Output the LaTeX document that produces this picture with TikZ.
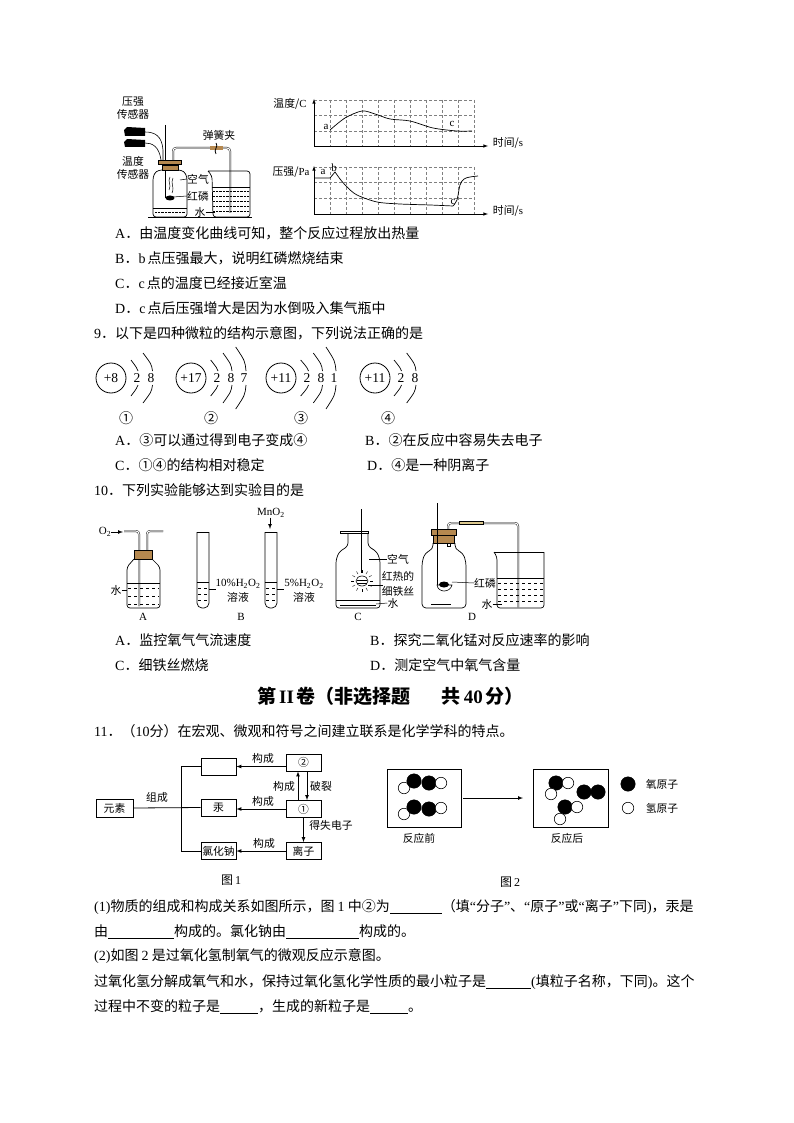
\documentclass[tikz,border=0pt]{standalone}
\usepackage{fontspec}
\setmainfont{Noto Sans CJK SC}
\newfontfamily\lat{Liberation Serif}
\newcommand{\la}[1]{{\lat #1}}
\newcommand{\blank}[1]{\rule[-2pt]{#1pt}{0.6pt}}
\newcommand{\shell}[3]{\draw[line width=.7pt] (#1,378-#3) .. controls (#2-1,378-#3*0.55) .. (#2,371); \draw[line width=.7pt] (#1,378+#3) .. controls (#2-1,378+#3*0.55) .. (#2,385);}
\definecolor{stopper}{HTML}{B5884F}
\definecolor{rubber}{HTML}{DCC88E}
\tikzset{
	line/.style={anchor=west,inner sep=0pt,font=\fontsize{14}{16}\selectfont},
	lab/.style={inner sep=0pt,font=\fontsize{10.8}{12}\selectfont},
	num/.style={inner sep=0pt,font=\lat\fontsize{13.5}{15}\selectfont},
	latlab/.style={inner sep=0pt,font=\lat\fontsize{11}{12}\selectfont},
	tube/.style={double,double distance=1.1pt,line width=.45pt,rounded corners=3pt},
	glass/.style={line width=.7pt,rounded corners=3pt},
	grid/.style={densely dashed,line width=.35pt,gray},
	axis/.style={-latex,line width=.6pt},
	curve/.style={line width=.7pt,smooth},
	water/.style={dashed,line width=.5pt},
	box/.style={draw,line width=.8pt,inner sep=0pt,minimum width=35pt,minimum height=17pt,font=\fontsize{10.8}{12}\selectfont},
	arr/.style={-latex,line width=.7pt},
	oatom/.style={circle,fill=black,draw,inner sep=0pt,minimum size=14.5pt},
	hatom/.style={circle,fill=white,draw,line width=.6pt,inner sep=0pt,minimum size=11.5pt},
	nucleus/.style={circle,draw,line width=.8pt,minimum size=30pt,inner sep=0pt,font=\lat\fontsize{13.5}{15}\selectfont},
}
\begin{document}
\begin{tikzpicture}[x=1pt,y=-1pt]
	\useasboundingbox (0,0) rectangle (794,1123);

	% apparatus of question 8
	\node[lab] (yq) at (133,102) {压强};
	\node[lab] (yqs) at (133,114) {传感器};
	\node[lab] (wd) at (133,161) {温度};
	\node[lab] (wds) at (133,174) {传感器};
	\fill (124,130) -- (127,127) -- (145,128) -- (145,136) -- (125,136) -- cycle;
	\fill (124,142) -- (127,139) -- (145,140) -- (145,147) -- (125,147) -- cycle;
	\draw[line width=.6pt] (145,132) .. controls (155,132) and (162,136) .. (163,150) -- (163,160);
	\draw[line width=.6pt] (145,143) .. controls (152,143) and (159,146) .. (161,160);
	\draw[line width=.6pt] (165,125) -- (165,198);
	\draw[tube] (173,161) -- (173,148) -- (230,148) -- (230,213);
	\draw[fill=stopper] (158,160) rectangle (181,164.5);
	\draw[fill=stopper] (162,165) rectangle (178,170);
	\draw[glass] (162,170) -- (156,171) -- (153,177) -- (153,217) -- (187,217) -- (187,177) -- (184,171) -- (178,170);
	\draw[line width=.5pt] (153,208) -- (187,208);
	\draw[line width=.4pt,densely dotted] (155,212) -- (185,212);
	\fill[stopper] (210,146.5) rectangle (223,150);
	\draw[line width=.8pt] (216,143) .. controls (219,146) and (213,150) .. (216,154);
	\node[lab] (spring) at (219,135) {弹簧夹};
	\draw[glass] (208,171) -- (250,171) -- (250,217) -- (213,217) -- (212,176) -- (208,171);
	\draw[line width=.5pt] (212,187) -- (250,187);
	\foreach \y in {191,196,201,206,211}
		\draw[line width=.4pt,densely dotted] (213,\y) -- (249,\y);
	\draw[line width=.6pt] (148,217) -- (252,217);
	\draw[line width=.5pt] (170,177) .. controls (167,182) and (172,184) .. (169,190);
	\draw[line width=.5pt] (173,178) .. controls (170,184) and (175,186) .. (172,193);
	\fill (170,198) ellipse (4.5pt and 2.5pt);
	\node[lab] (air) at (198,179) {空气};
	\node[lab] (rp) at (198,196) {红磷};
	\node[lab] (wat) at (200,212) {水};
	\draw[line width=.5pt] (air.west) -- (180,180);
	\draw[line width=.5pt] (rp.west) -- (173,197);
	\draw[line width=.5pt] (wat.east) -- (215,212);

	% temperature curve
	\foreach \x in {1,...,10}
		\draw[grid] (314+16*\x,100) -- (314+16*\x,146);
	\draw[grid] (314,100) -- (474,100);
	\draw[grid] (314,115.5) -- (474,115.5);
	\draw[grid] (314,131) -- (474,131);
	\draw[axis] (314,146) -- (314,99);
	\draw[axis] (314,146) -- (488,146);
	\draw[curve] plot coordinates {(330,130) (345,118) (362,111) (375,114) (390,119) (410,121) (433,128) (457,131) (472,131)};
	\node[lab] (tlab) at (290,104) {温度/\la{C}};
	\node[latlab] (ta) at (326,127) {a};
	\node[latlab] (tc) at (452,124) {c};
	\node[lab] (tx) at (508,143) {时间/\la{s}};

	% pressure curve
	\foreach \x in {1,...,10}
		\draw[grid] (314+16*\x,167) -- (314+16*\x,214);
	\draw[grid] (314,167) -- (474,167);
	\draw[grid] (314,182) -- (474,182);
	\draw[grid] (314,198) -- (474,198);
	\draw[axis] (314,214) -- (314,166);
	\draw[axis] (314,214) -- (488,214);
	\draw[line width=.7pt] (314,178) -- (330,178) -- (335,172) -- (340,179);
	\draw[curve] plot coordinates {(340,179) (347,187) (357,195) (377,202) (400,204) (430,205) (453,206)};
	\draw[curve] plot coordinates {(453,206) (457,200) (460,185) (464,179) (470,177) (478,176)};
	\node[lab] (plab) at (291,172) {压强/\la{Pa}};
	\node[latlab] (pa) at (323,172) {a};
	\node[latlab] (pb) at (334,168) {b};
	\node[latlab] (pc) at (453,202) {c};
	\node[lab] (px) at (508,211) {时间/\la{s}};

	\node[line] (q8a) at (115,233) {\la{A}．由温度变化曲线可知，整个反应过程放出热量};
	\node[line] (q8b) at (115,258) {\la{B}．\la{b}\hspace{2pt}点压强最大，说明红磷燃烧结束};
	\node[line] (q8c) at (115,283) {\la{C}．\la{c}\hspace{2pt}点的温度已经接近室温};
	\node[line] (q8d) at (115,308) {\la{D}．\la{c}\hspace{2pt}点后压强增大是因为水倒吸入集气瓶中};
	\node[line] (q9) at (94,333) {\la{9}．以下是四种微粒的结构示意图，下列说法正确的是};

	% atoms
	\node[nucleus] (nuca) at (111,378) {+8};
	\node[nucleus] (nucb) at (191,378) {+17};
	\node[nucleus] (nucc) at (281,378) {+11};
	\node[nucleus] (nucd) at (375,378) {+11};
	\shell{131}{138}{18}
	\shell{143}{152.5}{25}
	\shell{210.7}{218}{18}
	\shell{223}{232}{25}
	\shell{235.7}{246}{31}
	\shell{300.7}{308.5}{18}
	\shell{313.3}{322.5}{25}
	\shell{326}{336}{31}
	\shell{394}{401.5}{18}
	\shell{406.7}{416}{25}
	\node[num] (ea1) at (137,378) {2};
	\node[num] (ea2) at (151,378) {8};
	\node[num] (eb1) at (217,378) {2};
	\node[num] (eb2) at (231,378) {8};
	\node[num] (eb3) at (244,378) {7};
	\node[num] (ec1) at (307,378) {2};
	\node[num] (ec2) at (321,378) {8};
	\node[num] (ec3) at (334,378) {1};
	\node[num] (ed1) at (401,378) {2};
	\node[num] (ed2) at (415,378) {8};
	\node[line,anchor=center] (cap1) at (126,418) {①};
	\node[line,anchor=center] (cap2) at (211,418) {②};
	\node[line,anchor=center] (cap3) at (301,418) {③};
	\node[line,anchor=center] (cap4) at (388,418) {④};

	\node[line] (q9a) at (115,440) {\la{A}．③可以通过得到电子变成④};
	\node[line] (q9b) at (365,440) {\la{B}．②在反应中容易失去电子};
	\node[line] (q9c) at (115,465) {\la{C}．①④的结构相对稳定};
	\node[line] (q9d) at (367,465) {\la{D}．④是一种阴离子};
	\node[line] (q10) at (94,490) {\la{10}．下列实验能够达到实验目的是};

	% apparatus A
	\node[latlab] (oxy) at (105,532) {O\textsubscript{2}};
	\coordinate (oxyend) at (123,532);
	\draw[arr] (oxy.east) -- (oxyend);
	\draw[tube] (124,531) -- (139,531) -- (139,606);
	\draw[tube] (163,531) -- (147,531) -- (147,553);
	\draw[fill=stopper] (134,550) rectangle (152,559);
	\draw[glass] (134,559) -- (127,567) -- (127,608) -- (160,608) -- (160,567) -- (152,559);
	\draw[line width=.5pt] (127,583) -- (160,583);
	\foreach \y in {588,596,604}
		\draw[water] (128,\y) -- (159,\y);
	\node[lab] (wa) at (116,590) {水};
	\draw[line width=.5pt] (wa.east) -- (127,590);
	\node[latlab] (capa) at (143,617) {A};

	% apparatus B
	\draw[glass,rounded corners=5pt] (197,532) -- (197,608) -- (209,608) -- (209,532);
	\draw[line width=.7pt] (197,532) -- (209,532);
	\draw[line width=.5pt] (197,582) -- (209,582);
	\foreach \y in {588,594,600}
		\draw[water] (198,\y) -- (208,\y);
	\draw[glass,rounded corners=5pt] (265,532) -- (265,608) -- (277,608) -- (277,532);
	\draw[line width=.7pt] (265,532) -- (277,532);
	\draw[line width=.5pt] (265,582) -- (277,582);
	\foreach \y in {588,594,600}
		\draw[water] (266,\y) -- (276,\y);
	\node[latlab] (mno) at (271,513) {MnO\textsubscript{2}};
	\coordinate (mnoend) at (270,529);
	\draw[arr] (mno.south -| mnoend) -- (mnoend);
	\node[latlab] (ten) at (238,584) {10\%H\textsubscript{2}O\textsubscript{2}};
	\node[lab] (tensol) at (238,597) {溶液};
	\node[latlab] (five) at (304,584) {5\%H\textsubscript{2}O\textsubscript{2}};
	\node[lab] (fivesol) at (304,597) {溶液};
	\coordinate (tena) at (209,589);
	\coordinate (fivea) at (277,589);
	\draw[line width=.5pt] (tena) -- ++(7,0);
	\draw[line width=.5pt] (fivea) -- ++(7,0);
	\node[latlab] (capb) at (241,617) {B};

	% apparatus C
	\draw[line width=.7pt] (340,531) rectangle (368,533.5);
	\draw[glass] (348,533.5) -- (348,546) -- (339,552) -- (336,560) -- (336,608) -- (380,608) -- (380,560) -- (377,552) -- (368,546) -- (368,533.5);
	\draw[line width=.6pt] (361,509) -- (361,573);
	\draw[line width=.6pt] (336,600) -- (380,600);
	\draw[line width=.6pt] (340,605) -- (376,605);
	\draw[line width=.6pt] (362,581) ellipse (6pt and 5pt);
	\draw[line width=.5pt] (357,580) -- (367,580);
	\draw[line width=.5pt] (357,583) -- (367,583);
	\foreach \a in {0,30,...,330}
		\draw[line width=.4pt] (362,581) ++(\a:8) -- ++(\a:3);
	\node[lab] (cair) at (398,559) {空气};
	\node[lab] (cfe1) at (398,576) {红热的};
	\node[lab] (cfe2) at (398,591) {细铁丝};
	\node[lab] (cwat) at (393,603) {水};
	\draw[line width=.5pt] (cair.west) -- (369,559);
	\draw[line width=.5pt] (383,585) -- (368,585);
	\draw[line width=.5pt] (cwat.west) -- (376,604);
	\node[latlab] (capc) at (358,617) {C};

	% apparatus D
	\draw[tube] (448,543) -- (448,523) -- (518,523) -- (518,607);
	\draw[fill=rubber,line width=.4pt] (459,521.5) rectangle (483,524.5);
	\draw[line width=.5pt] (447,543) rectangle (450,546);
	\draw[fill=stopper,line width=.4pt] (433,535.5) rectangle (454,543);
	\draw[fill=stopper,line width=.4pt] (431,529) rectangle (456,535);
	\draw[glass,rounded corners=4pt] (433,543) -- (433,549) -- (425,553) -- (422,562) -- (422,608) -- (466,608) -- (466,562) -- (463,553) -- (455,549) -- (455,543);
	\draw[line width=1pt] (437,503) -- (437,585);
	\draw[line width=.6pt] (437,585) .. controls (438,593) and (450,593) .. (452,585) -- cycle;
	\fill (444,584.5) ellipse (5pt and 3pt);
	\draw[line width=.6pt] (431,604) -- (451,604);
	\node[lab] (dp) at (485,583) {红磷};
	\draw[line width=.5pt] (dp.west) -- (452,582);
	\draw[glass,rounded corners=1pt] (494,552) -- (544,552);
	\draw[glass] (494,552) -- (497,557) -- (497,608) -- (544,608) -- (544,552);
	\draw[line width=.5pt] (497,578) -- (544,578);
	\foreach \y in {583,589,595,601}
		\draw[water] (498,\y) -- (543,\y);
	\node[lab] (dw) at (487,604) {水};
	\draw[line width=.5pt] (dw.east) -- (502,604);
	\node[latlab] (capd) at (472,617) {D};

	\node[line] (q10a) at (115,640) {\la{A}．监控氧气气流速度};
	\node[line] (q10b) at (370,640) {\la{B}．探究二氧化锰对反应速率的影响};
	\node[line] (q10c) at (115,665) {\la{C}．细铁丝燃烧};
	\node[line] (q10d) at (370,665) {\la{D}．测定空气中氧气含量};
	\node[line,font=\bfseries\fontsize{19}{22}\selectfont] (title) at (257,696) {第\hspace{3pt}\la{II}\hspace{3pt}卷（非选择题\hspace{31pt}共\hspace{3pt}\la{40}\hspace{3pt}分）};
	\node[line] (q11) at (94,731) {\la{11}．（\la{10}分）在宏观、微观和符号之间建立联系是化学学科的特点。};

	% figure 1
	\node[box,minimum width=37pt,minimum height=18pt] (elem) at (114.5,808) {元素};
	\node[box] (sub) at (218.5,766.5) {};
	\node[box] (hg) at (218.5,807.5) {汞};
	\node[box] (nacl) at (218.5,851) {氯化钠};
	\node[box] (two) at (303.5,762.5) {②};
	\node[box] (one) at (303.5,809) {①};
	\node[box] (ion) at (303.5,851) {离子};
	\coordinate (trunk) at (181,808);
	\draw[line width=.8pt] (elem.east) -- (hg.west);
	\draw[line width=.8pt] (sub.west) -- (sub.west -| trunk) -- (nacl.west -| trunk) -- (nacl.west);
	\draw[arr] (sub.east -| two.west) -- (sub.east);
	\draw[arr] (one.west) -- (one.west -| hg.east);
	\draw[arr] (ion.west) -- (nacl.east);
	\draw[arr] ([xshift=-5.5pt]one.north) -- ([xshift=-5.5pt]two.south);
	\draw[arr] ([xshift=3.5pt]two.south) -- ([xshift=3.5pt]one.north);
	\draw[arr] (one.south) -- (ion.north);
	\node[lab] (zc) at (157,797) {组成};
	\node[lab] (gc1) at (263,758) {构成};
	\node[lab] (gc2) at (263,801) {构成};
	\node[lab] (gc3) at (264,843) {构成};
	\node[lab] (gc4) at (284,786) {构成};
	\node[lab] (pl) at (321,786) {破裂};
	\node[lab] (ds) at (331,825) {得失电子};
	\node[lab,font=\fontsize{12}{14}\selectfont] (fig1) at (231,880) {图\,\la{1}};

	% figure 2
	\draw[line width=.8pt] (387,769) rectangle (461,827);
	\draw[line width=.8pt] (533,769) rectangle (608,827);
	\coordinate (rs) at (463,798);
	\coordinate (re) at (523,798);
	\draw[arr] (rs) -- (re);
	\node[hatom] (h1) at (404,788) {};
	\node[oatom] (o1) at (414,781) {};
	\node[oatom] (o2) at (429,783) {};
	\node[hatom] (h2) at (441,783) {};
	\node[hatom] (h3) at (404,814) {};
	\node[oatom] (o3) at (414,807) {};
	\node[oatom] (o4) at (429,809) {};
	\node[hatom] (h4) at (441,808) {};
	\node[oatom] (o5) at (556,783) {};
	\node[hatom] (h5) at (568,783) {};
	\node[hatom] (h6) at (551,794) {};
	\node[oatom] (o6) at (584,792) {};
	\node[oatom] (o7) at (598,792) {};
	\node[oatom] (o8) at (565,807) {};
	\node[hatom] (h7) at (577,807) {};
	\node[hatom] (h8) at (560,819) {};
	\node[oatom] (lego) at (628,784) {};
	\node[hatom] (legh) at (628,808) {};
	\node[lab] (lo) at (662,784) {氧原子};
	\node[lab] (lh) at (662,808) {氢原子};
	\node[lab] (before) at (419,838) {反应前};
	\node[lab] (after) at (567,838) {反应后};
	\node[lab,font=\fontsize{12}{14}\selectfont] (fig2) at (510,882) {图\,\la{2}};

	\node[line] (p1) at (94,907) {\la{(1)}物质的组成和构成关系如图所示，图 \la{1} 中②为\blank{52}（填\la{“}分子\la{”}、\la{“}原子\la{”}或\la{“}离子\la{”}下同\la{)}，汞是};
	\node[line] (p2) at (94,932) {由\blank{66}构成的。氯化钠由\blank{73}构成的。};
	\node[line] (p3) at (94,956) {\la{(2)}如图 \la{2} 是过氧化氢制氧气的微观反应示意图。};
	\node[line] (p4) at (94,982) {过氧化氢分解成氧气和水，保持过氧化氢化学性质的最小粒子是\blank{45}\la{(}填粒子名称，下同\la{)}。这个};
	\node[line] (p5) at (94,1007) {过程中不变的粒子是\blank{38}，生成的新粒子是\blank{38}。};
\end{tikzpicture}
\end{document}
